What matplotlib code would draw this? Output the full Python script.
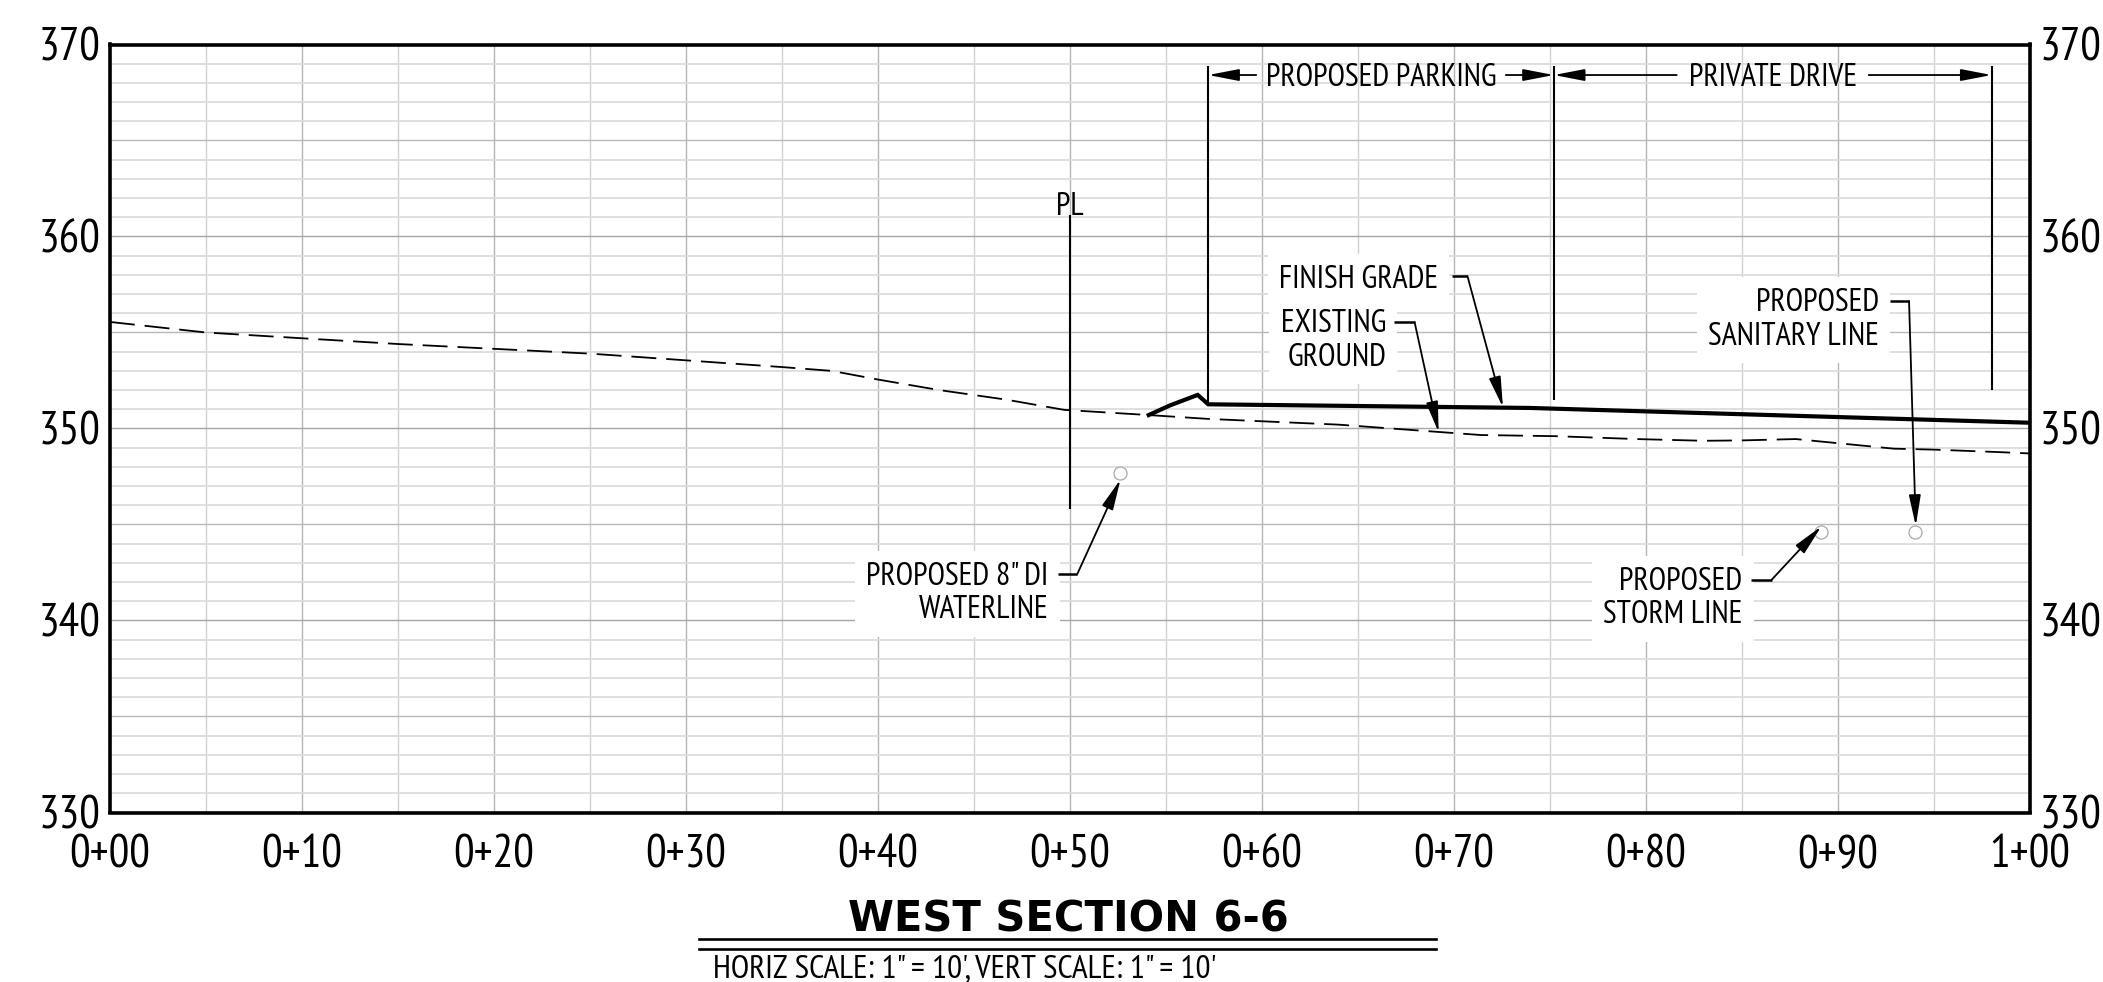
'''
West section 6-6: existing ground and finish grade profile with proposed utilities.
'''

import matplotlib
matplotlib.use('Agg')
import matplotlib.pyplot as plt
from matplotlib.lines import Line2D
import numpy as np

plt.rcParams['font.family'] = ['PT Sans Narrow', 'Liberation Sans']

WIDTH, HEIGHT = 2103, 982

x_ticks = [0, 10, 20, 30, 40, 50, 60, 70, 80, 90, 100]
x_tick_labels = ['0+00', '0+10', '0+20', '0+30', '0+40', '0+50', '0+60', '0+70', '0+80', '0+90', '1+00']
y_ticks = [330, 340, 350, 360, 370]

ground_x = [0, 5, 10, 15, 20, 25, 30, 35, 37.6, 40, 43.2, 46.7, 49.7, 54.1, 57.2, 64, 69.2, 71.4, 75.3, 79.5, 83, 85, 87.8, 92.9, 95, 98.4, 100]
ground_y = [355.55, 355.0, 354.7, 354.4, 354.15, 353.9, 353.55, 353.2, 353.0, 352.55, 352.0, 351.5, 350.97, 350.7, 350.5, 350.2, 349.82, 349.66, 349.6, 349.45, 349.36, 349.38, 349.45, 348.95, 348.9, 348.77, 348.7]

grade_x = [54.1, 55.2, 56.65, 57.2, 73.97, 100]
grade_y = [350.7, 351.2, 351.75, 351.26, 351.07, 350.3]

pipes_x = [52.6, 89.1, 94.0]
pipes_y = [347.7, 344.6, 344.6]

# x, bottom, top of the plain vertical marker lines
markers = [(50, 345.8, 361.1), (57.2, 351.26, 368.9), (75.2, 351.5, 368.9), (98.0, 352.0, 368.9)]

# text, right edge x, centre y
callouts = [
	('FINISH GRADE', 69.17, 357.75),
	('EXISTING\nGROUND', 66.46, 354.55),
	('PROPOSED\nSANITARY LINE', 92.14, 355.65),
	('PROPOSED 8" DI\nWATERLINE', 48.89, 341.40),
	('PROPOSED\nSTORM LINE', 85.03, 341.14),
]

# landing start x, landing end x, landing y, arrow tip x, arrow tip y
leaders = [
	(69.9, 70.7, 357.94, 72.55, 351.1),
	(66.9, 67.95, 355.53, 69.2, 349.8),
	(92.7, 93.7, 356.64, 94.05, 344.93),
	(49.4, 50.37, 342.4, 52.63, 347.35),
	(85.47, 86.55, 342.13, 89.13, 344.9),
]

# text, text centre x, left arrow tip, left line end, right line end, right arrow tip
spans = [
	('PROPOSED PARKING', 66.2, 57.2, 59.7, 72.7, 75.2),
	('PRIVATE DRIVE', 86.6, 75.2, 81.6, 91.6, 98.0),
]
span_y = 368.41

def draw_grid(axis):
	for x in np.arange(0, 101, 5):
		color = '#b4b4b4' if x % 10 == 0 else '#d0d0d0'
		axis.axvline(x, color=color, linewidth=1.0, zorder=1)
	for y in np.arange(330, 371, 1):
		if y % 10 == 0:
			axis.axhline(y, color='#a6a6a6', linewidth=1.0, zorder=1)
		elif y % 5 == 0:
			axis.axhline(y, color='#b8b8b8', linewidth=1.0, zorder=1)
		else:
			axis.axhline(y, color='#dcdcdc', linewidth=1.3, zorder=1)

def draw_arrow(axis, start, tip):
	axis.annotate('', xy=tip, xytext=start, zorder=6, arrowprops=dict(
		arrowstyle='-|>,head_length=1.87,head_width=0.36', mutation_scale=10,
		color='black', linewidth=1.3, shrinkA=0, shrinkB=0))

def draw_callouts(axis):
	for text, x, y in callouts:
		axis.text(x, y, text, ha='right', va='center', fontsize=23, linespacing=1.15, zorder=4,
			bbox=dict(facecolor='white', edgecolor='none', pad=8))
	for x0, x1, y, tip_x, tip_y in leaders:
		axis.plot([x0, x1], [y, y], color='black', linewidth=1.8, solid_capstyle='butt', zorder=6)
		draw_arrow(axis, (x1, y), (tip_x, tip_y))

def draw_spans(axis):
	for text, x, left_tip, left_end, right_end, right_tip in spans:
		axis.text(x, span_y-0.16, text, ha='center', va='center', fontsize=23, zorder=5)
		draw_arrow(axis, (left_end, span_y), (left_tip, span_y))
		draw_arrow(axis, (right_end, span_y), (right_tip, span_y))

fig = plt.figure(figsize=(WIDTH/100, HEIGHT/100), dpi=100)
axis = fig.add_axes([110/WIDTH, 1-812.5/HEIGHT, 1920/WIDTH, 768/HEIGHT])

draw_grid(axis)
axis.plot(ground_x, ground_y, color='black', linewidth=1.3, linestyle=(0, (13.8, 5.5)), zorder=3)
axis.plot(grade_x, grade_y, color='black', linewidth=3.0, solid_joinstyle='miter', zorder=3)
axis.plot(pipes_x, pipes_y, linestyle='none', marker='o', markersize=9.4, markerfacecolor='white',
	markeredgecolor='#a8a8a8', markeredgewidth=0.9, zorder=3)
for x, bottom, top in markers:
	axis.plot([x, x], [bottom, top], color='black', linewidth=1.5, solid_capstyle='butt', zorder=3)
axis.text(49.97, 361.55, 'PL', ha='center', va='center', fontsize=23, zorder=5)

draw_callouts(axis)
draw_spans(axis)

axis.set_xlim(0, 100)
axis.set_ylim(330, 370)
axis.set_xticks(x_ticks)
axis.set_xticklabels(x_tick_labels)
axis.set_yticks(y_ticks)
axis.tick_params(axis='x', length=0, pad=16, labelsize=33)
axis.tick_params(axis='y', length=0, pad=7, labelsize=33, labelleft=True, labelright=True)
for spine in axis.spines.values():
	spine.set_linewidth(2.6)
	spine.set_zorder(8)

fig.text(1068/WIDTH, 1-931/HEIGHT, 'WEST SECTION 6-6', family='DejaVu Sans', fontweight='bold',
	fontsize=30, ha='center', va='baseline')
for y in (939, 949):
	fig.add_artist(Line2D([699/WIDTH, 1436/WIDTH], [1-y/HEIGHT, 1-y/HEIGHT], color='black', linewidth=1.9))
fig.text(713/WIDTH, 1-978/HEIGHT, 'HORIZ SCALE: 1" = 10\', VERT SCALE: 1" = 10\'', fontsize=24, ha='left', va='baseline')

fig.savefig('out.png', dpi=100)
